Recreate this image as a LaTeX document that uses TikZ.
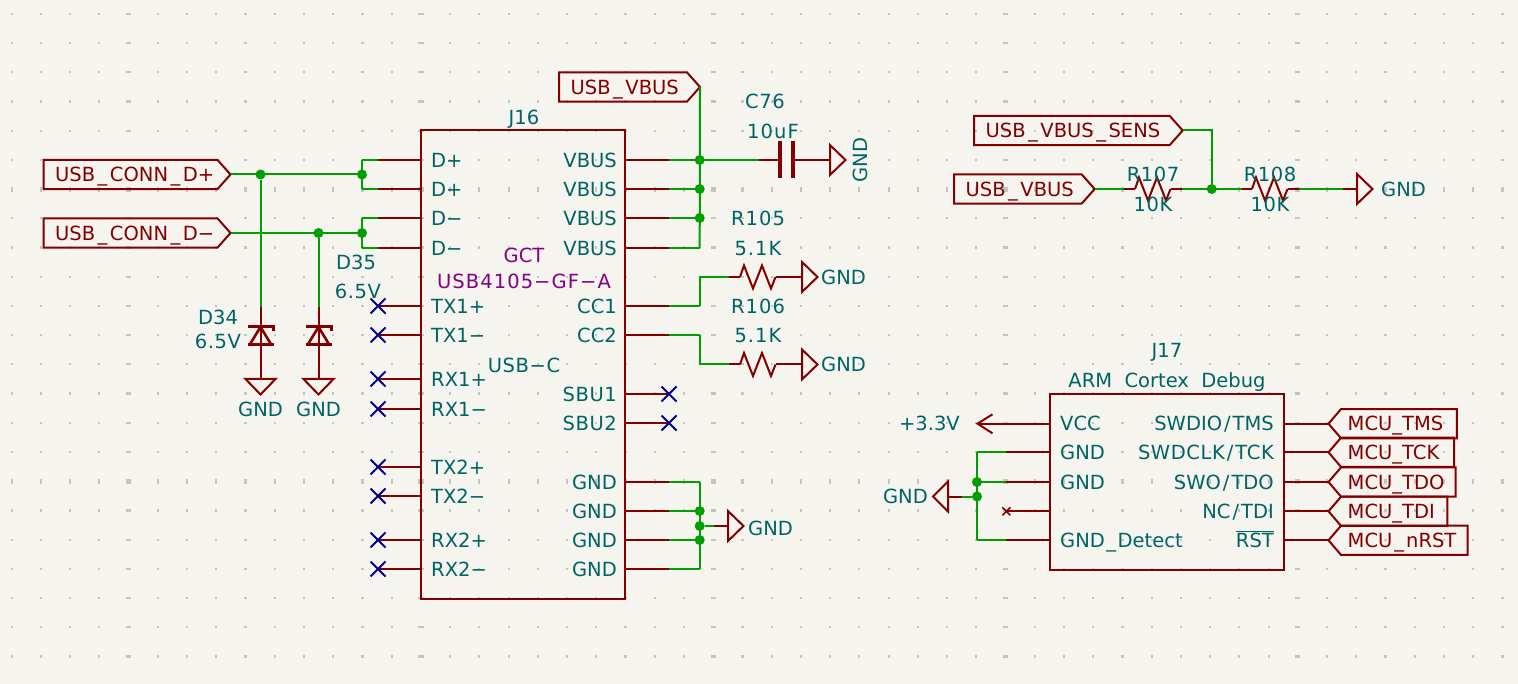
\documentclass[tikz,border=0pt]{standalone}
\usepackage{fontspec}
\setmainfont{DejaVu Sans}
\newfontfamily\widefont[LetterSpace=5.5]{DejaVu Sans}
\newfontfamily\medfont[LetterSpace=3]{DejaVu Sans}
\newcommand{\usk}{\kern2.5pt\_\kern2.5pt}
\newcommand{\slk}{\kern2pt\slash\kern2pt}
\definecolor{sheetbg}{HTML}{F5F4EF}
\definecolor{griddot}{HTML}{C4C4C0}
\definecolor{wirecol}{HTML}{009E00}
\definecolor{symcol}{HTML}{840000}
\definecolor{txtcol}{HTML}{006464}
\definecolor{valcol}{HTML}{840084}
\definecolor{nccol}{HTML}{000084}
\tikzset{
  wire/.style={draw=wirecol,line width=2pt},
  pinline/.style={draw=symcol,line width=2pt},
  sym/.style={draw=symcol,line width=2pt,line join=miter},
  junc/.style={circle,fill=wirecol,draw=none,inner sep=0pt,minimum size=10pt},
  txt/.style={text=txtcol,font=\fontsize{19.5}{20}\selectfont,inner sep=0pt,text height=14.5pt,text depth=0pt},
  valtxt/.style={txt,text=valcol},
  labtxt/.style={txt,text=symcol},
  ncmark/.style={draw=nccol,line width=2pt},
  pics/gndright/.style={code={\draw[sym] (0,-15) -- (0,15) -- (15.5,0) -- cycle;}},
  pics/gnddown/.style={code={\draw[sym] (-15,0) -- (15,0) -- (0,15.5) -- cycle;}},
  pics/gndleft/.style={code={\draw[sym] (0,-15) -- (0,15) -- (-15,0) -- cycle;}},
  pics/zener/.style={code={\draw[symcol,line width=3pt] (-13,18.5) -- (13,18.5);
    \draw[symcol,line width=3pt] (-13,0.5) -- (13,0.5) -- (13,5);
    \draw[symcol,line width=2.6pt] (0,0.5) -- (-11,18.5) (0,0.5) -- (11,18.5);}},
  pics/resist/.style={code={\draw[sym] (0,0) -- (4,-11.5) -- (13,11.5) -- (22,-11.5) -- (31,11.5) -- (35.5,0);}},
  pics/ncx/.style={code={\draw[ncmark] (-7.5,-7.5) -- (7.5,7.5) (-7.5,7.5) -- (7.5,-7.5);}}
}
%label pointing right, tip is named #1
\newcommand{\sigright}[5]{
  \draw[sym] (#2,#4-14.6) -- (#3,#4-14.6) -- (#3+13,#4) coordinate (#1) -- (#3,#4+14.6) -- (#2,#4+14.6) -- cycle;
  \node[labtxt,anchor=west] (#1txt) at (#2+11.5,#4) {#5};
}
%label pointing left
\newcommand{\sigleft}[4]{
  \draw[sym] (1341,#3-14.6) -- (#2,#3-14.6) -- (#2,#3+14.6) -- (1341,#3+14.6) -- (1328.5,#3) coordinate (#1) -- cycle;
  \node[labtxt,anchor=west] (#1txt) at (1347.5,#3) {#4};
}
\begin{document}
\begin{tikzpicture}[x=1pt,y=-1pt]
  \fill[sheetbg] (0,0) rectangle (1518,684);
  \useasboundingbox (0,0) rectangle (1518,684);
  %GRID
  \foreach \i in {0,...,51}
    \foreach \j in {0,...,22} {
      \pgfmathsetmacro{\gx}{11.7+29.23*\i}
      \pgfmathsetmacro{\gy}{14+29.2*\j}
      \pgfmathsetmacro{\ww}{mod(\i,10)==4 ? 2.6 : 1.1}
      \pgfmathsetmacro{\hh}{mod(\j,10)==6 ? 2.6 : 1.1}
      \fill[griddot] (\gx-\ww,\gy-\hh) rectangle (\gx+\ww,\gy+\hh);
    }
  %LABELS
  \sigright{dp}{43.5}{217.5}{174.5}{USB\usk CONN\usk D+}
  \sigright{dm}{43.5}{217.5}{233}{USB\usk CONN\usk D−}
  \sigright{vbus}{559}{687}{87}{USB\usk VBUS}
  \sigright{sens}{974}{1169.7}{130.5}{USB\usk VBUS\usk SENS}
  \sigright{vbusr}{954}{1081.7}{189}{USB\usk VBUS}
  %J16 BOX
  \node[sym,draw,rectangle,minimum width=204pt,minimum height=469pt,inner sep=0pt] (J16) at (523,364.5) {};
  \node[txt] (J16ref) at (524,117) {J16};
  \node[valtxt] (J16gct) at (524,255) {GCT};
  \node[valtxt] (J16val) at (524,281) {\widefont USB4105−GF−A};
  \node[txt] (J16usb) at (524,365) {\medfont USB−C};
  %LEFT PINS
  \foreach \n/\t/\y in {a/D+/160,b/D+/189,c/D−/218,d/D−/248} {
    \coordinate (L\n) at (421,\y);
    \coordinate (LE\n) at (378,\y);
    \coordinate (LW\n) at (362,\y);
    \draw[pinline] (L\n) -- (LE\n);
    \draw[wire] (LE\n) -- (LW\n);
    \node[txt,anchor=west] (Lt\n) at (431,\y) {\t};
  }
  \foreach \n/\t/\y in {e/TX1+/306,f/TX1−/335,g/RX1+/379,h/RX1−/409,i/TX2+/467,j/TX2−/496,k/RX2+/540,l/RX2−/569} {
    \coordinate (L\n) at (421,\y);
    \coordinate (LE\n) at (378,\y);
    \draw[pinline] (L\n) -- (LE\n);
    \pic at (LE\n) {ncx};
    \node[txt,anchor=west] (Lt\n) at (431,\y) {\t};
  }
  %RIGHT PINS
  \foreach \n/\t/\y in {a/VBUS/160,b/VBUS/189,c/VBUS/218,d/VBUS/248,e/CC1/306,f/CC2/335,i/GND/482,j/GND/511,k/GND/540,l/GND/569} {
    \coordinate (R\n) at (625,\y);
    \coordinate (RE\n) at (669,\y);
    \coordinate (RW\n) at (699.7,\y);
    \draw[pinline] (R\n) -- (RE\n);
    \draw[wire] (RE\n) -- (RW\n);
    \node[txt,anchor=east] (Rt\n) at (617,\y) {\t};
  }
  \foreach \n/\t/\y in {g/SBU1/394,h/SBU2/423} {
    \coordinate (R\n) at (625,\y);
    \coordinate (RE\n) at (669,\y);
    \draw[pinline] (R\n) -- (RE\n);
    \pic at (RE\n) {ncx};
    \node[txt,anchor=east] (Rt\n) at (617,\y) {\medfont\t};
  }
  %D+/D- NETS
  \draw[wire] (LWa) -- (LWb);
  \draw[wire] (LWc) -- (LWd);
  \draw[wire] (dp) -- (362,174.5) coordinate (jdp);
  \draw[wire] (dm) -- (362,233) coordinate (jdm);
  \node[junc] (j1) at (jdp) {};
  \node[junc] (j2) at (jdm) {};
  \node[junc] (j3) at (260.5,174.5) {};
  \node[junc] (j4) at (318.5,233) {};
  %ZENERS
  \foreach \n/\a/\x/\y in {34/j3/260.5/0,35/j4/318.5/0} {
    \coordinate (D\n) at (\x,307);
    \coordinate (Dz\n) at (\x,326.5);
    \coordinate (Dg\n) at (\x,379);
    \draw[wire] (\a) -- (D\n);
    \draw[pinline] (D\n) -- (Dg\n);
    \pic at (Dz\n) {zener};
    \pic at (Dg\n) {gnddown};
    \node[txt] (Dgt\n) at (\x,409.5) {GND};
  }
  \node[txt] (D34ref) at (218,317) {D34};
  \node[txt] (D34val) at (218,341) {\medfont 6.5V};
  \node[txt] (D35ref) at (356,262) {D35};
  \node[txt] (D35val) at (358,291) {\medfont 6.5V};
  %VBUS NET + C76
  \draw[wire] (vbus) -- (RWd);
  \foreach \n in {a,b,c} \node[junc] (jv\n) at (RW\n) {};
  \coordinate (c1) at (758.5,160);
  \coordinate (c2) at (780,160);
  \coordinate (c3) at (793,160);
  \coordinate (c4) at (830,160);
  \draw[wire] (RWa) -- (c1);
  \draw[pinline] (c1) -- (c2);
  \draw[pinline] (c3) -- (c4);
  \draw[symcol,line width=4pt] (780,141) -- (780,178) (793,141) -- (793,178);
  \pic at (c4) {gndright};
  \node[txt,rotate=90] (c76gnd) at (860,160) {GND};
  \node[txt] (C76ref) at (765,101) {\medfont C76};
  \node[txt] (C76val) at (773,131) {\widefont 10uF};
  %CC RESISTORS
  \foreach \n/\p/\y in {105/e/277,106/f/364.5} {
    \coordinate (rA\n) at (729,\y);
    \coordinate (rB\n) at (740,\y);
    \coordinate (rC\n) at (775.5,\y);
    \coordinate (rD\n) at (802,\y);
    \draw[wire] (RW\p) -- (rA\n -| RW\p) -- (rA\n);
    \draw[pinline] (rA\n) -- (rB\n);
    \pic at (rB\n) {resist};
    \draw[pinline] (rC\n) -- (rD\n);
    \pic at (rD\n) {gndright};
    \node[txt,anchor=west] (rG\n) at (821,\y) {GND};
  }
  \node[txt] (R105ref) at (758,218) {\widefont R105};
  \node[txt] (R105val) at (758,248) {\widefont 5.1K};
  \node[txt] (R106ref) at (758,306) {\widefont R106};
  \node[txt] (R106val) at (758,335) {\widefont 5.1K};
  %J16 GND
  \draw[wire] (RWi) -- (RWl);
  \foreach \n in {j,k} \node[junc] (jg\n) at (RW\n) {};
  \node[junc] (jgm) at (699.7,526) {};
  \coordinate (gg1) at (714,526);
  \coordinate (gg2) at (728,526);
  \draw[wire] (jgm) -- (gg1);
  \draw[pinline] (gg1) -- (gg2);
  \pic at (gg2) {gndright};
  \node[txt,anchor=west] (gg3) at (748,528) {GND};
  %VBUS DIVIDER
  \coordinate (d1) at (1124,189);
  \coordinate (d2) at (1135,189);
  \coordinate (d3) at (1170.5,189);
  \coordinate (d4) at (1182,189);
  \coordinate (d5) at (1241.5,189);
  \coordinate (d6) at (1252,189);
  \coordinate (d7) at (1287.5,189);
  \coordinate (d8) at (1299,189);
  \coordinate (d9) at (1343,189);
  \coordinate (d10) at (1357,189);
  \draw[wire] (vbusr) -- (d1);
  \draw[pinline] (d1) -- (d2);
  \pic at (d2) {resist};
  \draw[pinline] (d3) -- (d4);
  \draw[wire] (d4) -- (d5);
  \draw[pinline] (d5) -- (d6);
  \pic at (d6) {resist};
  \draw[pinline] (d7) -- (d8);
  \draw[wire] (d8) -- (d9);
  \draw[pinline] (d9) -- (d10);
  \pic at (d10) {gndright};
  \node[junc] (jd) at (1211.7,189) {};
  \draw[wire] (sens) -| (jd);
  \node[txt] (R107ref) at (1153,174) {\medfont R107};
  \node[txt] (R107val) at (1153,204) {\medfont 10K};
  \node[txt] (R108ref) at (1270,174) {\medfont R108};
  \node[txt] (R108val) at (1270,204) {\medfont 10K};
  \node[txt,anchor=west] (dgnd) at (1381,189) {GND};
  %J17 BOX
  \node[sym,draw,rectangle,minimum width=234pt,minimum height=176pt,inner sep=0pt] (J17) at (1167,482.2) {};
  \node[txt] (J17ref) at (1167,350) {J17};
  \node[txt] (J17val) at (1167,380) {ARM\ \ Cortex\ \ Debug};
  %J17 LEFT
  \coordinate (vcc) at (1050,423.7);
  \coordinate (vccend) at (977.5,423.7);
  \draw[pinline] (vcc) -- (vccend);
  \draw[sym] (992.5,414.3) -- (vccend) -- (992.5,433.3);
  \node[txt,anchor=east] (vcct) at (960,423.7) {+3.3V};
  \node[txt,anchor=west] (vccp) at (1060,423.7) {VCC};
  \foreach \n/\t/\y in {a/GND/452.3,b/GND/482,c/GND\kern1.5pt\_\kern1.5pt Detect/540.3} {
    \coordinate (Ja\n) at (1050,\y);
    \coordinate (Jb\n) at (1006.4,\y);
    \coordinate (Jc\n) at (977,\y);
    \draw[pinline] (Ja\n) -- (Jb\n);
    \draw[wire] (Jb\n) -- (Jc\n);
    \node[txt,anchor=west] (Jt\n) at (1060,\y) {\t};
  }
  \coordinate (Jad) at (1050,511.3);
  \coordinate (Jbd) at (1006.4,511.3);
  \draw[pinline] (Jad) -- (Jbd);
  \draw[symcol,line width=1.6pt] (1002.4,507.3) -- (1010.4,515.3) (1002.4,515.3) -- (1010.4,507.3);
  \draw[wire] (Jca) -- (Jcc);
  \node[junc] (jj1) at (Jcb) {};
  \node[junc] (jj2) at (977,496.5) {};
  \coordinate (gj1) at (962,496.5);
  \coordinate (gj2) at (948,496.5);
  \draw[wire] (jj2) -- (gj1);
  \draw[pinline] (gj1) -- (gj2);
  \pic at (gj2) {gndleft};
  \node[txt,anchor=east] (gjt) at (928,496.5) {GND};
  %J17 RIGHT
  \sigleft{tms}{1456.8}{423.7}{MCU\_TMS}
  \sigleft{tck}{1454}{452.3}{MCU\_TCK}
  \sigleft{tdo}{1455.6}{482}{MCU\_TDO}
  \sigleft{tdi}{1447.3}{511.3}{MCU\_TDI}
  \sigleft{nrst}{1467.5}{540.3}{MCU\kern2pt\_\kern2pt nRST}
  \foreach \n/\t/\y in {tms/SWDIO\slk TMS/423.7,tck/{\medfont SWDCLK}\slk {\medfont TCK}/452.3,tdo/SWO\slk TDO/482,tdi/NC\slk TDI/511.3,nrst/$\overline{\mbox{RST}}$/540.3} {
    \coordinate (Jr\n) at (1284,\y);
    \draw[pinline] (Jr\n) -- (\n);
    \node[txt,anchor=east] (Jrt\n) at (1274,\y) {\t};
  }
\end{tikzpicture}
\end{document}
